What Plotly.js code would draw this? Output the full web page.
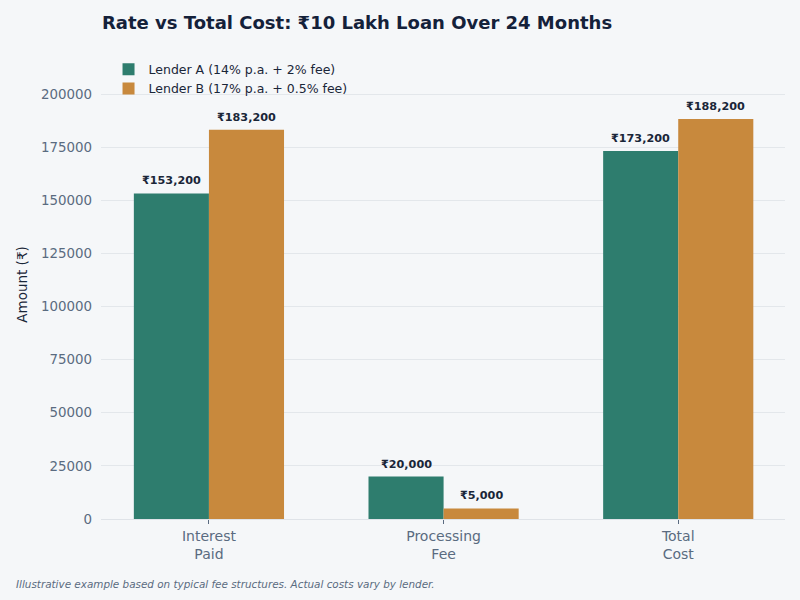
<!DOCTYPE html>
<html>
<head>
<meta charset="utf-8">
<script src="https://cdn.plot.ly/plotly-3.0.1.min.js"></script>
<style>html,body{margin:0;padding:0;background:#f5f7f9;}</style>
</head>
<body>
<div id="chart" style="width:800px;height:600px;"></div>
<script>
const categories = ["Interest<br>Paid", "Processing<br>Fee", "Total<br>Cost"];
const lenderA = [153200, 20000, 173200];
const lenderB = [183200, 5000, 188200];
const seriesNames = ["Lender A (14% p.a. + 2% fee)", "Lender B (17% p.a. + 0.5% fee)"];
const colors = ["#2e7d6e", "#c8893d"];
const font = "DejaVu Sans, sans-serif";
const barOffset = 0.16;

function trace(vals, i) {
  return {
    type: "bar", x: categories, y: vals, name: seriesNames[i],
    marker: {color: colors[i], line: {width: 0}},
    hoverinfo: "none"
  };
}

const labelAnnotations = [];
[lenderA, lenderB].forEach((vals, s) => {
  vals.forEach((v, i) => {
    labelAnnotations.push({
      x: i + (s === 0 ? -barOffset : barOffset), y: v, xref: "x", yref: "y",
      text: "<b>₹" + v.toLocaleString("en-US") + "</b>",
      showarrow: false, yanchor: "bottom", xanchor: "center", yshift: 4,
      font: {family: font, size: 11.2, color: "#1a2638"}
    });
  });
});

const plotTop = 50, plotBottom = 519;
const plotH = plotBottom - plotTop;

const layout = {
  width: 800, height: 600,
  paper_bgcolor: "#f5f7f9", plot_bgcolor: "#f5f7f9",
  margin: {l: 101, r: 15, t: plotTop, b: 600 - plotBottom},
  barmode: "group", bargap: 0.36, bargroupgap: 0,
  font: {family: font, color: "#1a2638"},
  title: {text: "<b>Rate vs Total Cost: ₹10 Lakh Loan Over 24 Months</b>",
    font: {family: font, size: 18, color: "#14213a"},
    x: 102/800, xanchor: "left", xref: "container", y: 1 - 23/600, yref: "container", yanchor: "middle"},
  xaxis: {range: [-0.46, 2.455], tickfont: {family: font, size: 14, color: "#5a6b80"},
    ticks: "outside", ticklen: 4, tickcolor: "#5a6b80", showgrid: false,
    showline: false, zeroline: false},
  yaxis: {range: [0, plotH * 200000 / 425], tickvals: [0, 25000, 50000, 75000, 100000, 125000, 150000, 175000, 200000],
    tickformat: "d",
    tickfont: {family: font, size: 13.4, color: "#5a6b80"},
    gridcolor: "#e3e7eb", gridwidth: 1, zeroline: true, zerolinecolor: "#dfe3e8",
    ticks: "", ticklabelstandoff: 8,
    title: {text: "Amount (₹)", font: {family: font, size: 13.5, color: "#1a2638"}, standoff: 10}},
  legend: {x: 0.011, y: 0.99, xanchor: "left", yanchor: "top", bgcolor: "rgba(0,0,0,0)",
    font: {family: font, size: 12.5, color: "#1a2638"}, tracegroupgap: 0},
  showlegend: true,
  annotations: labelAnnotations.concat([{text: "<i>Illustrative example based on typical fee structures. Actual costs vary by lender.</i>",
    xref: "paper", yref: "paper", x: -87/684, y: -(584-519)/plotH, xanchor: "left", yanchor: "middle",
    showarrow: false, font: {family: font, size: 10.4, color: "#5a6b80"}}])
};

Plotly.newPlot("chart", [trace(lenderA, 0), trace(lenderB, 1)], layout, {displayModeBar: false, staticPlot: true});
</script>
</body>
</html>
